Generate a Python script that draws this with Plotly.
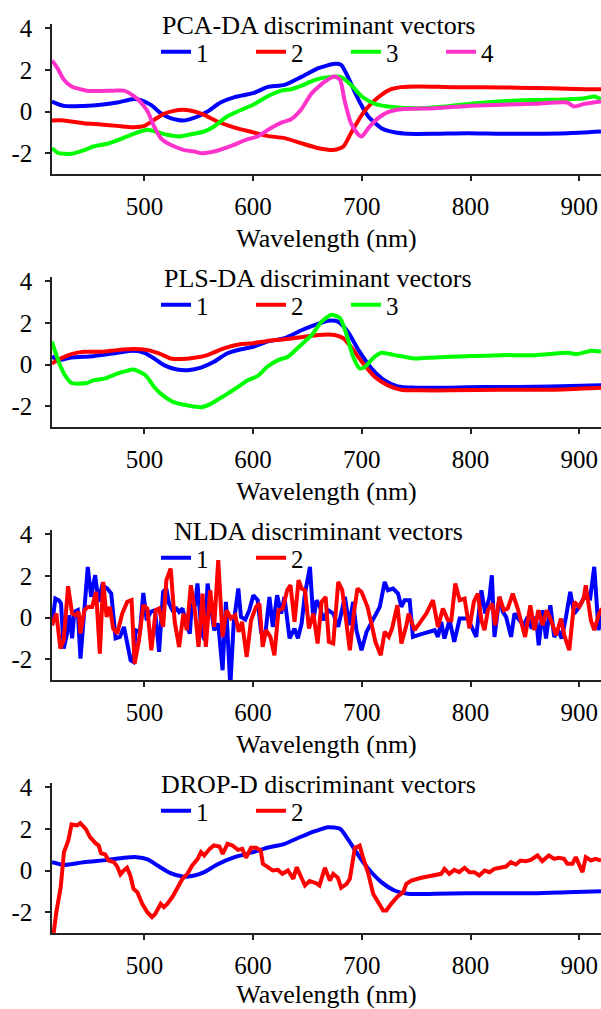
import plotly.graph_objects as go

FONT = "Liberation Serif"
TICK_SIZE = 25
TEXT_SIZE = 26
TITLES = ["PCA-DA discriminant vectors", "PLS-DA discriminant vectors",
          "NLDA discriminant vectors", "DROP-D discriminant vectors"]
COLORS = {"1": "#0000FF", "2": "#FF0000", "3": "#00FF00", "4": "#FF33CC"}
XTICKS = [500, 600, 700, 800, 900]
YTICKS = [-2, 0, 2, 4]
YTICKTEXT = ["-2", "0", "2", "4"]
XRANGE = [415, 920]
YRANGE = [-3, 4.2]
XLABEL = "Wavelength (nm)"

# ---------------- PCA-DA ----------------
pca_wl_1 = [415, 426, 444, 460, 475, 490, 496, 506, 515, 524, 536, 549, 558, 570, 583, 600, 613, 629, 644,
            660, 675, 681, 687, 697, 706, 718, 730, 742, 767, 797, 828, 859, 889, 920]
pca_v1 = [0.48, 0.27, 0.27, 0.32, 0.43, 0.60, 0.56, 0.32, -0.08, -0.32, -0.43, -0.24, 0.0, 0.43, 0.69, 0.88, 1.17,
          1.28, 1.65, 2.08, 2.29, 2.24, 1.68, 0.56, -0.24, -0.80, -1.0, -1.07, -1.07, -1.04, -1.07, -1.07, -1.04, -0.96]
pca_wl_2 = [415, 426, 444, 460, 475, 490, 500, 509, 518, 527, 536, 546, 555, 567, 583, 600, 613, 629, 644, 660,
            675, 683, 690, 700, 709, 718, 727, 736, 752, 782, 813, 843, 874, 905, 920]
pca_v2 = [-0.43, -0.43, -0.56, -0.62, -0.69, -0.75, -0.69, -0.40, -0.11, 0.03, 0.08, 0.0, -0.16, -0.48, -0.77,
          -1.0, -1.17, -1.28, -1.52, -1.76, -1.84, -1.68, -1.04, -0.16, 0.40, 0.80, 1.07, 1.17, 1.20, 1.17, 1.17,
          1.14, 1.12, 1.07, 1.07]
pca_wl_3 = [415, 421, 433, 444, 453, 466, 478, 490, 503, 512, 521, 532, 543, 555, 564, 576, 589, 600, 613, 626,
            635, 644, 657, 669, 681, 690, 700, 712, 730, 752, 782, 813, 843, 874, 905, 914, 920]
pca_v3 = [-1.76, -2.0, -2.03, -1.87, -1.68, -1.55, -1.33, -1.07, -0.88, -0.99, -1.12, -1.20, -1.09, -0.96, -0.72,
          -0.24, 0.08, 0.32, 0.72, 1.0, 1.07, 1.23, 1.52, 1.65, 1.65, 1.28, 0.72, 0.37, 0.21, 0.16, 0.27, 0.43,
          0.53, 0.56, 0.64, 0.72, 0.59]
pca_wl_4 = [415, 420, 426, 433, 447, 460, 472, 481, 490, 496, 503, 509, 515, 524, 536, 546, 552, 564, 580, 595,
            604, 616, 626, 635, 644, 654, 666, 675, 680, 684, 690, 697, 700, 706, 715, 724, 736, 767, 797, 828,
            859, 889, 895, 905, 920]
pca_v4 = [2.45, 2.08, 1.52, 1.20, 1.0, 0.99, 1.0, 1.0, 0.75, 0.48, 0.0, -0.72, -1.28, -1.60, -1.84, -1.92, -2.0,
          -1.92, -1.65, -1.33, -1.20, -0.80, -0.53, -0.37, 0.08, 0.88, 1.44, 1.68, 1.52, 0.56, -0.56, -1.12,
          -1.20, -0.80, -0.32, -0.03, 0.11, 0.16, 0.27, 0.32, 0.37, 0.43, 0.24, 0.37, 0.48]

# ---------------- PLS-DA ----------------
pls_wl_1 = [415, 421, 433, 453, 475, 490, 500, 509, 518, 530, 540, 552, 564, 576, 589, 600, 613, 629, 644, 657,
            669, 678, 687, 697, 709, 721, 733, 749, 782, 813, 843, 874, 920]
pls_v1 = [0.40, 0.21, 0.34, 0.40, 0.56, 0.66, 0.56, 0.29, -0.03, -0.24, -0.27, -0.15, 0.13, 0.53, 0.73, 0.85,
          1.10, 1.26, 1.63, 1.90, 2.10, 2.06, 1.58, 0.69, -0.19, -0.76, -1.05, -1.11, -1.11, -1.08, -1.08, -1.05,
          -1.0]
pls_wl_2 = [415, 423, 433, 444, 460, 475, 490, 503, 515, 524, 533, 546, 558, 573, 589, 600, 613, 629, 644, 660,
            675, 683, 690, 700, 712, 724, 736, 752, 782, 828, 874, 920]
pls_v2 = [0.05, 0.29, 0.50, 0.61, 0.61, 0.69, 0.74, 0.69, 0.50, 0.29, 0.26, 0.32, 0.45, 0.77, 0.98, 1.02, 1.13,
          1.21, 1.31, 1.42, 1.42, 1.26, 0.85, 0.13, -0.60, -1.0, -1.21, -1.24, -1.24, -1.21, -1.21, -1.11]
pls_wl_3 = [415, 418, 423, 427, 433, 447, 453, 463, 475, 483, 490, 501, 509, 515, 527, 540, 552, 561, 574, 586,
            595, 604, 613, 623, 632, 644, 654, 663, 672, 680, 686, 692, 698, 703, 710, 718, 730, 749, 767, 797,
            828, 859, 889, 898, 911, 920]
pls_v3 = [1.10, 0.61, -0.11, -0.52, -0.89, -0.89, -0.76, -0.68, -0.44, -0.32, -0.24, -0.52, -1.08, -1.40, -1.81,
          -1.97, -2.05, -1.89, -1.48, -1.08, -0.76, -0.56, -0.11, 0.21, 0.37, 0.94, 1.42, 2.06, 2.39, 2.23, 1.42,
          0.37, -0.19, -0.11, 0.29, 0.56, 0.45, 0.29, 0.34, 0.40, 0.45, 0.45, 0.56, 0.50, 0.66, 0.61]

# ---------------- NLDA ----------------
nlda_wl_1 = [415.0, 418.1, 421.2, 423.3, 425.8, 428.8, 431.0, 433.5, 435.6, 438.7, 441.2, 444.2, 447.9, 451.0,
             454.7, 457.8, 461.2, 465.8, 469.5, 473.5, 477.5, 481.2, 484.2, 487.3, 489.8, 491.9, 495.9, 499.0,
             502.1, 505.8, 509.8, 513.5, 517.2, 520.2, 522.7, 525.8, 529.5, 531.9, 535.0, 538.7, 541.8, 543.6,
             546.4, 548.8, 552.5, 555.6, 558.1, 561.2, 564.2, 567.9, 571.9, 575.0, 579.0, 582.1, 586.4, 588.8,
             592.8, 596.5, 600.2, 604.2, 607.3, 611.3, 615.0, 618.1, 622.1, 625.8, 628.8, 633.5, 638.1, 641.2,
             644.6, 647.7, 652.3, 655.4, 658.4, 661.5, 664.5, 669.0, 673.7, 678.3, 681.3, 684.4, 688.4, 692.0,
             695.0, 699.7, 704.3, 710.4, 716.5, 721.0, 724.0, 728.7, 733.3, 736.4, 739.4, 744.0, 747.0, 754.7,
             767.0, 770.0, 773.0, 776.0, 780.7, 785.0, 790.0, 797.5, 800.6, 805.2, 810.0, 813.5, 817.4, 819.6,
             822.0, 826.6, 829.7, 832.7, 837.3, 840.4, 845.0, 849.0, 852.6, 856.3, 860.2, 862.7, 866.4, 869.4,
             873.4, 877.0, 880.7, 883.8, 887.8, 891.7, 895.4, 900.0, 904.6, 910.0, 913.8, 917.7, 920.8]
nlda_v1 = [-0.37, 0.91, 0.83, 0.67, -1.49, -0.77, 0.11, -1.0, 0.27, 0.35, -1.97, -0.13, 2.43, 0.99, 2.03, 0.75,
           1.55, 1.39, 1.15, -1.0, -0.93, -0.45, -1.25, -2.05, -2.13, -0.61, -0.69, 1.18, -0.13, 0.27, 0.35,
           -1.65, 1.23, 1.39, 0.67, 0.35, 0.43, 0.27, 0.43, -0.37, -0.77, 0.67, 0.51, 1.63, -0.69, -1.09, 1.63,
           0.51, -0.61, -0.29, -2.53, 0.75, -3.3, -0.29, 1.39, 0.03, -0.10, 0.35, 1.07, 0.83, -0.69, -0.77, 0.99,
           -0.45, 1.07, 0.19, 0.99, -1.0, -0.53, -1.0, -0.29, 1.15, 2.43, -0.13, 0.83, 0.51, -0.13, 0.35, 0.19,
           -0.45, 0.19, 0.99, -0.37, 0.75, -0.61, -1.57, -0.69, -0.13, 0.51, 1.71, 1.31, 1.39, 1.15, 0.51, 0.83,
           0.83, -0.93, -0.80, -0.61, -0.93, -0.21, -1.01, -0.13, -1.17, -0.05, -0.05, -0.37, -0.93, 1.31, 0.19,
           0.99, 2.03, -0.93, 0.99, 0.27, 0.03, -0.93, 0.19, -0.13, -0.37, 0.03, -0.53, 0.03, -1.33, 0.35, -1.01,
           0.59, -0.93, -0.61, -1.01, 0.03, 1.23, 0.19, 0.51, 0.99, 0.91, 2.43, -0.61, 0.35]
nlda_wl_2 = [415.0, 419.0, 422.7, 425.8, 429.8, 433.5, 436.5, 439.6, 441.2, 444.8, 447.9, 451.9, 455.6, 459.0,
             462.1, 465.2, 468.2, 471.3, 475.0, 479.6, 484.2, 488.2, 491.0, 495.0, 499.0, 502.7, 506.4, 510.4,
             513.5, 517.2, 520.2, 524.2, 527.9, 531.9, 535.9, 539.0, 542.7, 546.4, 549.8, 553.5, 556.5, 560.5,
             564.2, 567.9, 571.9, 575.6, 579.6, 583.6, 586.7, 589.8, 594.1, 598.1, 602.7, 605.8, 608.8, 611.9,
             615.9, 619.6, 623.3, 627.3, 631.3, 634.4, 638.1, 641.8, 644.6, 647.7, 651.4, 655.4, 659.3, 663.0,
             666.7, 669.7, 673.7, 678.3, 682.0, 685.3, 689.0, 693.0, 696.0, 699.7, 705.2, 709.5, 712.5, 717.4,
             721.0, 724.8, 727.8, 732.7, 736.4, 741.0, 743.0, 748.6, 759.3, 765.4, 770.0, 774.6, 779.2, 782.3,
             786.0, 790.0, 794.5, 799.0, 803.0, 806.7, 810.0, 812.8, 816.0, 820.0, 822.6, 826.6, 830.6, 834.2,
             838.8, 843.4, 847.0, 850.2, 855.0, 858.7, 862.4, 866.4, 870.0, 874.0, 878.6, 883.2, 886.2, 890.8,
             895.4, 900.0, 904.0, 906.0, 910.7, 913.8, 918.3, 920.8]
nlda_v2 = [-0.37, 0.19, -1.49, -1.09, 1.50, 0.19, 0.11, 0.27, -0.77, 0.35, 0.51, 0.51, 1.23, -1.73, 1.71, 0.03,
           0.51, -0.53, -0.77, 0.19, 0.75, 0.83, -2.21, -1.09, 0.59, 0.43, -1.57, 0.35, 0.43, -0.45, 1.79, 2.35,
           -0.21, -1.41, 0.19, -0.61, 1.55, 0.35, -1.41, 1.15, -1.41, 1.31, -0.45, 2.75, -0.93, 0.35, -0.05, 0.11,
           -0.69, -0.21, -1.89, -0.13, 0.51, 0.67, -1.41, -0.61, -0.93, -1.81, 0.35, 0.43, 1.31, 1.55, -0.21,
           1.79, 1.39, 1.31, -0.53, 0.19, -1.25, 0.75, 0.99, -1.17, -1.25, 1.71, 1.31, -0.13, -1.57, 0.35, 1.39,
           1.23, 0.51, -0.45, -1.17, -1.81, -0.69, -0.93, -0.53, 0.59, -1.25, -0.37, 0.19, -0.61, 0.19, 0.83,
           -0.45, 0.43, -0.13, -0.13, 1.63, 0.83, 0.91, -0.53, 0.75, 1.15, -0.13, -0.61, 0.35, 0.67, -0.37, 0.99,
           0.35, 0.43, 1.15, 0.43, -0.29, -0.93, 0.59, -0.61, 0.35, -0.37, 0.35, -0.13, -0.85, -0.05, -0.85,
           -1.57, 0.75, 0.51, 0.91, 1.55, -0.13, -0.61, 0.19, 0.43]

# ---------------- DROP-D ----------------
drop_wl_1 = [415, 426, 444, 466, 481, 493, 503, 512, 524, 535, 546, 555, 567, 583, 600, 613, 629, 644, 657, 669,
             680, 687, 697, 706, 718, 730, 742, 767, 797, 828, 859, 889, 920]
drop_v1 = [0.40, 0.27, 0.40, 0.51, 0.61, 0.64, 0.53, 0.24, -0.13, -0.29, -0.24, -0.08, 0.29, 0.64, 0.88, 1.09,
           1.28, 1.62, 1.89, 2.08, 2.0, 1.52, 0.72, 0.08, -0.56, -0.96, -1.12, -1.12, -1.09, -1.09, -1.09, -1.04,
           -0.99]
drop_wl_2 = [415, 419, 423, 426, 430, 433, 438, 441, 446, 450, 455, 458, 460, 464, 467, 472, 475, 478, 481, 484,
             487, 490, 493.5, 498, 502.7, 507, 510, 515, 518, 521, 526, 530, 535, 539.6, 544, 549, 552, 555, 560,
             564, 569, 572, 576.5, 581, 586, 590, 593.5, 598, 602.7, 607, 609, 613, 618, 622.7, 627, 632, 637,
             640, 644, 647.7, 652, 658, 661, 666, 670.6, 673.7, 678, 681, 686, 689, 693.6, 698, 701, 706, 710.4,
             715, 719.6, 722.6, 727, 733, 738, 741, 745.6, 754.7, 767, 773, 776, 780.5, 785, 789.6, 794.5, 799,
             803.5, 808, 813, 817.4, 822, 828, 832.6, 837, 841.7, 846, 850.8, 855.4, 861.5, 866, 872, 877, 881,
             886, 889, 893.8, 896.8, 903, 906, 910.7, 915, 920]
drop_v2 = [-3.6, -2.0, -0.8, 0.88, 1.44, 2.21, 2.16, 2.27, 2.0, 1.6, 1.31, 1.2, 0.83, 0.77, 0.48, 0.40, 0.19,
           -0.19, 0.0, 0.13, -0.24, -0.88, -1.04, -1.6, -2.0, -2.24, -2.08, -1.6, -1.76, -1.6, -1.25, -0.88, -0.40,
           -0.16, 0.24, 0.56, 0.88, 0.72, 1.04, 1.2, 1.15, 0.8, 1.28, 1.2, 0.99, 1.04, 0.61, 1.09, 1.09, 0.96,
           0.32, 0.19, 0.0, 0.03, -0.16, 0.0, -0.4, 0.16, -0.3, -0.72, -0.51, -0.61, -0.72, 0.13, -0.48, -0.16,
           -0.35, -0.83, -0.64, -0.40, 1.09, 1.2, 0.64, -0.16, -1.12, -1.52, -1.92, -1.92, -1.6, -1.25, -1.04,
           -0.64, -0.48, -0.35, -0.24, -0.16, 0.08, -0.16, 0.03, -0.08, 0.13, -0.08, -0.08, -0.24, 0.0, -0.08,
           0.08, 0.13, 0.19, 0.40, 0.29, 0.48, 0.45, 0.51, 0.72, 0.45, 0.72, 0.56, 0.61, 0.56, 0.32, 0.32, 0.64,
           -0.08, 0.64, 0.48, 0.56, 0.48]

PANELS = [
    [("1", pca_wl_1, pca_v1, True), ("2", pca_wl_2, pca_v2, True),
     ("3", pca_wl_3, pca_v3, True), ("4", pca_wl_4, pca_v4, True)],
    [("1", pls_wl_1, pls_v1, True), ("2", pls_wl_2, pls_v2, True), ("3", pls_wl_3, pls_v3, True)],
    [("1", nlda_wl_1, nlda_v1, False), ("2", nlda_wl_2, nlda_v2, False)],
    [("1", drop_wl_1, drop_v1, True), ("2", drop_wl_2, drop_v2, False)],
]

W, H = 601, 1009
PLOT_BOTTOMS = [174, 427, 680, 933]   # pixel rows of x-axis lines
PLOT_H = 150

fig = go.Figure()
layout = dict(
    width=W, height=H,
    margin=dict(l=52, r=0, t=0, b=0, autoexpand=False),
    paper_bgcolor="white", plot_bgcolor="white",
    font=dict(family=FONT, size=TEXT_SIZE, color="black"),
    annotations=[],
)

for i, series in enumerate(PANELS):
    n = i + 1
    xa = "x" if n == 1 else f"x{n}"
    ya = "y" if n == 1 else f"y{n}"
    lg = "legend" if n == 1 else f"legend{n}"
    for name, wl, vals, smooth in series:
        fig.add_trace(go.Scatter(
            x=wl, y=vals, mode="lines", name=name,
            line=dict(color=COLORS[name], width=4,
                      shape="spline" if smooth else "linear", smoothing=0.6 if smooth else None),
            xaxis=xa, yaxis=ya, legend=lg))
    bottom = PLOT_BOTTOMS[i]
    top = bottom - PLOT_H
    d0 = 1 - bottom / H
    d1 = 1 - top / H
    axis_common = dict(showline=True, linecolor="#222222", linewidth=1.5, ticks="outside",
                       ticklen=5, tickwidth=1.5, tickcolor="#222222", showgrid=False, zeroline=False,
                       automargin=False,
                       tickfont=dict(family=FONT, size=TICK_SIZE, color="black"))
    layout["xaxis" if n == 1 else f"xaxis{n}"] = dict(
        domain=[0, 1], range=XRANGE, anchor=ya, tickvals=XTICKS,
        ticklabelstandoff=4,
        title=dict(text=XLABEL, standoff=10, font=dict(family=FONT, size=TEXT_SIZE, color="black")),
        **axis_common)
    layout["yaxis" if n == 1 else f"yaxis{n}"] = dict(
        domain=[d0, d1], range=YRANGE, anchor=xa, tickvals=YTICKS, ticktext=YTICKTEXT,
        ticklabelstandoff=8, **axis_common)
    layout["annotations"].append(dict(
        text=TITLES[i], x=0.485, y=d1, xref="paper", yref="paper",
        xanchor="center", yanchor="middle", showarrow=False, yshift=-1,
        font=dict(family=FONT, size=TEXT_SIZE, color="black")))
    layout[lg] = dict(
        orientation="h", x=(156 - 52) / 549, xanchor="left",
        y=1 - (top + 28) / H, yanchor="middle",
        bgcolor="rgba(0,0,0,0)", borderwidth=0,
        entrywidth=50, entrywidthmode="pixels", itemwidth=30,
        font=dict(family=FONT, size=TICK_SIZE, color="black"),
        tracegroupgap=0)

fig.update_layout(**layout)
fig.write_html(
    "out.html",
    config={"displayModeBar": False},
    post_script="document.body.style.margin='0';document.body.style.overflow='hidden';",
)
